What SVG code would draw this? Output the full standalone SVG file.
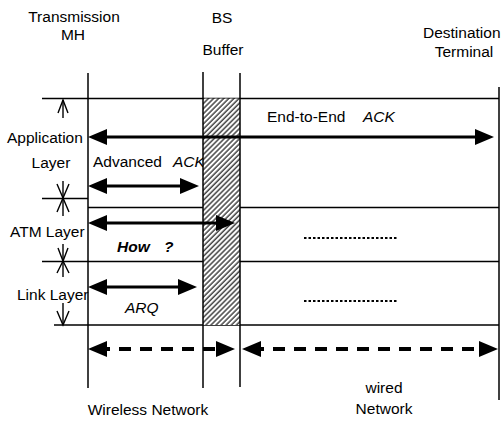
<svg xmlns="http://www.w3.org/2000/svg" width="502" height="421" viewBox="0 0 502 421">
<defs>
<style>
text{font-family:"Liberation Sans",Arial,Helvetica,sans-serif;font-size:15.5px;fill:#000}
.it{font-style:italic}
.bi{font-style:italic;font-weight:bold}
.ln{stroke:#000;stroke-width:1.5;fill:none}
.thick{stroke:#000;stroke-width:3.2;fill:none}
.dash{stroke:#000;stroke-width:4;fill:none;stroke-dasharray:12 9}
.dot{stroke:#000;stroke-width:2;fill:none;stroke-dasharray:2.5 2}
.open{stroke:#000;stroke-width:1.4;fill:none}
</style>
<marker id="ah" viewBox="0 0 19 16" refX="9" refY="8" markerWidth="19" markerHeight="16" markerUnits="userSpaceOnUse" orient="auto-start-reverse">
<path d="M0,0 L19,8 L0,16 z" fill="#000"/>
</marker>
<pattern id="hatch" patternUnits="userSpaceOnUse" width="3.6" height="3.6" patternTransform="rotate(45)">
<rect width="3.6" height="3.6" fill="#fff"/>
<line x1="1" y1="0" x2="1" y2="3.6" stroke="#000" stroke-width="1.1"/>
</pattern>
</defs>
<rect width="502" height="421" fill="#fff"/>

<g id="grid">
<line class="ln" x1="42" y1="98.5" x2="499" y2="98.5"/>
<line class="ln" x1="42" y1="198.5" x2="88" y2="198.5"/>
<line class="ln" x1="88" y1="207.5" x2="499" y2="207.5"/>
<line class="ln" x1="42" y1="261.5" x2="499" y2="261.5"/>
<line class="ln" x1="54" y1="325" x2="499" y2="325"/>
<line class="ln" x1="88" y1="73" x2="88" y2="388"/>
<line class="ln" x1="499" y1="87" x2="499" y2="400"/>
</g>

<g id="header-mh">
<text x="74" y="22" text-anchor="middle">Transmission</text>
<text x="73" y="40" text-anchor="middle">MH</text>
</g>
<g id="header-bs">
<text x="222" y="23" text-anchor="middle">BS</text>
<text x="223" y="55" text-anchor="middle">Buffer</text>
</g>
<g id="header-dest">
<text x="423" y="38">Destination</text>
<text x="464" y="57" text-anchor="middle">Terminal</text>
</g>

<g id="layer-application">
<text x="7" y="143">Application</text>
<text x="51" y="168" text-anchor="middle">Layer</text>
<line class="open" x1="63" y1="100" x2="63" y2="118"/>
<path class="open" d="M58,113 L63,100 L68,113"/>
<line class="open" x1="63" y1="181" x2="63" y2="198"/>
<path class="open" d="M57,184 L63,198 L69,184"/>
</g>
<g id="layer-atm">
<text x="10" y="237">ATM Layer</text>
<line class="open" x1="63" y1="198" x2="63" y2="216"/>
<path class="open" d="M57,212 L63,198 L69,212"/>
<line class="open" x1="63" y1="244" x2="63" y2="261"/>
<path class="open" d="M58,248 L63,261 L68,248"/>
</g>
<g id="layer-link">
<text x="17" y="300">Link Layer</text>
<line class="open" x1="63" y1="261" x2="63" y2="277"/>
<path class="open" d="M57,273 L63,261 L69,273"/>
<line class="open" x1="63" y1="303" x2="63" y2="325"/>
<path class="open" d="M57,311 L63,325 L69,311"/>
</g>

<g id="labels">
<text x="93" y="167">Advanced</text>
<text class="it" x="173" y="167">ACK</text>
<text class="bi" x="117" y="252">How</text>
<text class="bi" x="164" y="252">?</text>
<text class="it" x="125" y="313">ARQ</text>
<text x="267" y="122">End-to-End</text>
<text class="it" x="363" y="122">ACK</text>
</g>

<g id="bs-buffer">
<rect x="203" y="98.5" width="37" height="226.5" fill="url(#hatch)"/>
<line class="ln" x1="203" y1="72" x2="203" y2="388"/>
<line class="ln" x1="240" y1="73" x2="240" y2="387"/>
</g>

<g id="connectors">
<line class="thick" x1="98" y1="137" x2="484" y2="137" marker-start="url(#ah)" marker-end="url(#ah)"/>
<line class="thick" x1="98" y1="186" x2="189" y2="186" marker-start="url(#ah)" marker-end="url(#ah)"/>
<line class="thick" x1="98" y1="223" x2="225" y2="223" marker-start="url(#ah)" marker-end="url(#ah)"/>
<line class="thick" x1="98" y1="287" x2="187" y2="287" marker-start="url(#ah)" marker-end="url(#ah)"/>
<line class="dash" x1="98" y1="349" x2="225" y2="349" marker-start="url(#ah)" marker-end="url(#ah)"/>
<line class="dash" x1="252" y1="349" x2="488" y2="349" marker-start="url(#ah)" marker-end="url(#ah)"/>
<line class="dot" x1="304" y1="238" x2="397" y2="238"/>
<line class="dot" x1="304" y1="301" x2="397" y2="301"/>
</g>

<g id="footer">
<text x="148" y="415" text-anchor="middle">Wireless Network</text>
<text x="384" y="393" text-anchor="middle">wired</text>
<text x="384" y="414" text-anchor="middle">Network</text>
</g>
</svg>
